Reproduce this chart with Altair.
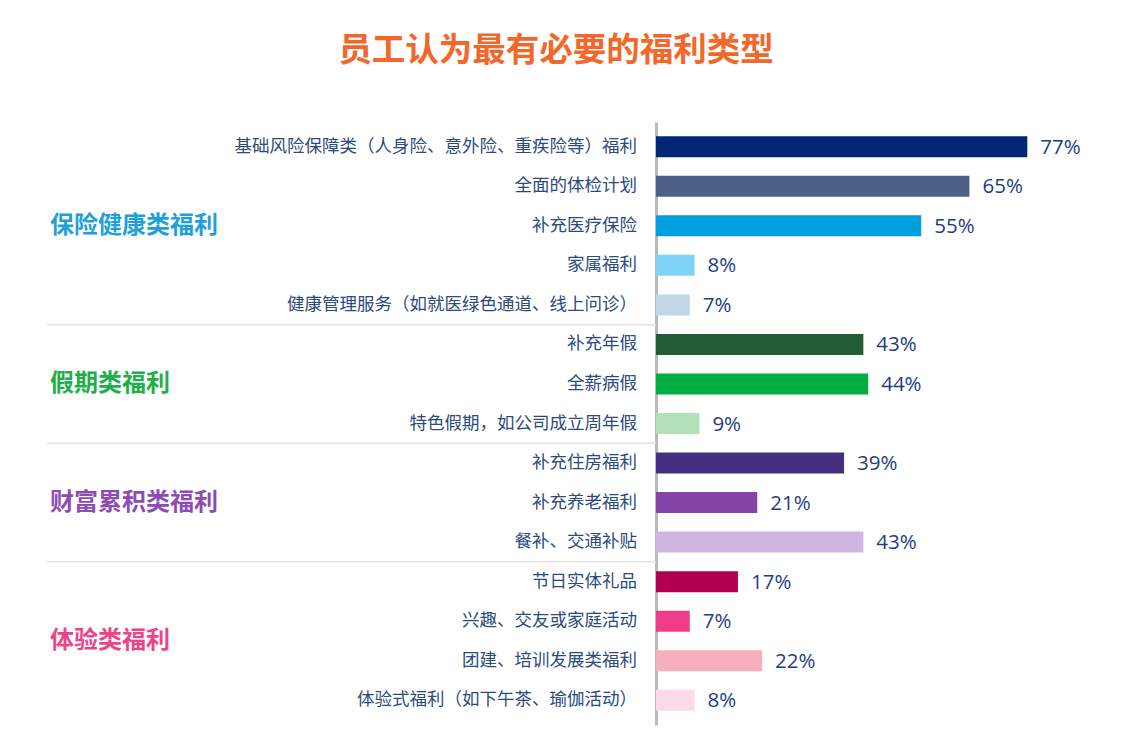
import altair as alt
import pandas as pd

# ---- data ----
groups = ["保险健康类福利", "假期类福利", "财富累积类福利", "体验类福利"]
group_sizes = [5, 3, 3, 4]
group_colors = ["#1EA0DA", "#1DAF48", "#8C4CB3", "#EE4389"]

items = [
    "基础风险保障类（人身险、意外险、重疾险等）福利",
    "全面的体检计划",
    "补充医疗保险",
    "家属福利",
    "健康管理服务（如就医绿色通道、线上问诊）",
    "补充年假",
    "全薪病假",
    "特色假期，如公司成立周年假",
    "补充住房福利",
    "补充养老福利",
    "餐补、交通补贴",
    "节日实体礼品",
    "兴趣、交友或家庭活动",
    "团建、培训发展类福利",
    "体验式福利（如下午茶、瑜伽活动）",
]
values = [77, 65, 55, 8, 7, 43, 44, 9, 39, 21, 43, 17, 7, 22, 8]
bar_colors = [
    "#002776", "#4D6086", "#009FE0", "#7DD4F8", "#C1D6E6",
    "#225C36", "#00AD40", "#B1E0B9",
    "#452E80", "#8545A8", "#D0B5E1",
    "#B30050", "#EF3B8A", "#F7AFBF", "#FDDAE8",
]

# ---- tables ----
df = pd.DataFrame({
    "item": items,
    "value": values,
    "idx": list(range(len(items))),
})
df["label"] = df["value"].astype(str) + "%"

grp_rows = []
sep_rows = []
start = 0
for g, n, c in zip(groups, group_sizes, group_colors):
    grp_rows.append({"group": g, "mid": start + (n - 1) / 2.0, "color": c})
    if start > 0:
        sep_rows.append({"pos": start - 0.5})
    start += n
gdf = pd.DataFrame(grp_rows)
sdf = pd.DataFrame(sep_rows)

W, H = 434, 603
yscale = alt.Scale(domain=[-0.5, len(items) - 0.5], reverse=True, nice=False, zero=False)
xscale = alt.Scale(domain=[0, 90], nice=False)

CJK = "Noto Sans CJK SC"

base = alt.Chart(df)

bars = base.mark_bar(orient="horizontal", size=21).encode(
    x=alt.X("value:Q", scale=xscale, axis=None),
    y=alt.Y("idx:Q", scale=yscale,
            axis=alt.Axis(labels=False, ticks=False, grid=False, title=None,
                          domain=True, domainColor="#B4BAC2", domainWidth=3)),
    color=alt.Color("item:N", scale=alt.Scale(domain=items, range=bar_colors), legend=None),
)

vals = base.mark_text(align="left", baseline="middle", dx=13, dy=1,
                      font="Open Sans", fontSize=20.5, color="#1F3C86").encode(
    x=alt.X("value:Q", scale=xscale),
    y=alt.Y("idx:Q", scale=yscale),
    text="label:N",
)

cats = base.mark_text(align="right", baseline="middle", dx=-19,
                      font=CJK, fontSize=17.5, color="#2C4A7E").encode(
    x=alt.datum(0, scale=xscale),
    y=alt.Y("idx:Q", scale=yscale),
    text="item:N",
)

glabels = alt.Chart(gdf).mark_text(align="left", baseline="middle", dy=0,
                                   font=CJK, fontSize=24, fontWeight="bold").encode(
    x=alt.value(-606),
    y=alt.Y("mid:Q", scale=yscale),
    text="group:N",
    color=alt.Color("color:N", scale=None),
)

seps = alt.Chart(sdf).mark_rule(color="#E2E2E2", strokeWidth=1.5).encode(
    x=alt.value(-609),
    x2=alt.value(0),
    y=alt.Y("pos:Q", scale=yscale),
)

chart = alt.layer(seps, bars, vals, cats, glabels).properties(
    width=W,
    height=H,
    autosize=alt.AutoSizeParams(type="none"),
    padding={"left": 648, "top": 114, "right": 20, "bottom": 10},
    title=alt.TitleParams(
        "员工认为最有必要的福利类型",
        font=CJK, fontSize=33.5, fontWeight="bold", color="#F4672A",
        anchor="middle", frame="bounds", offset=54, dx=-12,
    ),
).configure(
    background="white",
    view=alt.ViewConfig(stroke="transparent", strokeWidth=0),
)

chart.save("out.html", embed_options={"renderer": "svg", "actions": False})
